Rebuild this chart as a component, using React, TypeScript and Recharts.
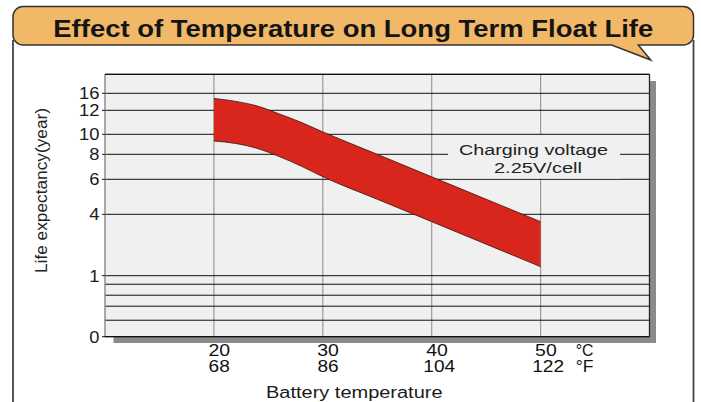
import React from 'react';
import {
  ComposedChart,
  Area,
  XAxis,
  YAxis,
  CartesianGrid,
  ReferenceLine,
  ReferenceDot,
  Label,
} from 'recharts';

const FONT = '"Liberation Sans", Arial, Helvetica, sans-serif';

// Categories: battery temperature (°C)
const temperatureC = [20, 22, 24, 26, 28, 30, 35, 40, 45, 50];
// Series: life expectancy band (years), upper and lower edges
const lifeUpper = [14.8, 14.1, 13.0, 11.7, 11.0, 10.2, 8.0, 6.2, 4.86, 3.64];
const lifeLower = [9.33, 9.08, 8.58, 7.82, 7.06, 6.21, 4.86, 3.64, 2.54, 1.44];

// X tick labels
const xTicksC = [20, 30, 40, 50];
const xTicksF = ['68', '86', '104', '122'];

// Y tick labels (years) and unlabelled lines below 1 year
const yTickYears = [0, 1, 4, 6, 8, 10, 12, 16];
const yMinorYears = [0.27, 0.5, 0.68, 0.86];

// The printed y axis is non-uniform: axis units at which each labelled value sits
const yAxisStops = [0, 61, 122.4, 157.4, 182.4, 202.4, 226.4, 243.4];
const yAxisTop = 262.4;

function toAxis(v: number): number {
  const n = yTickYears.length;
  let i = 0;
  while (i < n - 2 && v > yTickYears[i + 1]) i++;
  const v0 = yTickYears[i];
  const v1 = yTickYears[i + 1];
  const s0 = yAxisStops[i];
  const s1 = yAxisStops[i + 1];
  return s0 + ((v - v0) / (v1 - v0)) * (s1 - s0);
}

const data = temperatureC.map((t, i) => ({
  t,
  band: [toAxis(lifeLower[i]), toAxis(lifeUpper[i])],
}));

const yTicks = [...yMinorYears, ...yTickYears].map(toAxis).sort((a, b) => a - b);

function labelFor(value: number): string | null {
  for (let i = 0; i < yTickYears.length; i++) {
    if (Math.abs(toAxis(yTickYears[i]) - value) < 1e-6) return String(yTickYears[i]);
  }
  return null;
}

const XTick = (props: any) => {
  const { x, y, payload } = props;
  const i = xTicksC.indexOf(payload.value);
  const c = String(payload.value);
  const f = xTicksF[i] ?? '';
  const common = {
    fontSize: 16,
    fontFamily: FONT,
    fill: '#111',
    textAnchor: 'middle' as const,
    lengthAdjust: 'spacingAndGlyphs' as const,
  };
  return (
    <g>
      <text {...common} x={x + (c.length > 2 ? 7.5 : 5.3)} y={y + 19} textLength={c.length * 10.8}>
        {c}
      </text>
      <text {...common} x={x + (f.length > 2 ? 7.5 : 5.3)} y={y + 35} textLength={f.length * 10.6}>
        {f}
      </text>
      {i === xTicksC.length - 1 && (
        <>
          <text {...common} textAnchor="start" x={x + 35.2} y={y + 19} textLength={17.7}>
            °C
          </text>
          <text {...common} textAnchor="start" x={x + 35.2} y={y + 35} textLength={17.7}>
            °F
          </text>
        </>
      )}
    </g>
  );
};

const YTick = (props: any) => {
  const { x, y, payload } = props;
  const label = labelFor(payload.value);
  if (label == null) return <g />;
  return (
    <g>
      <line x1={x - 3} x2={x} y1={y} y2={y} stroke="#111" strokeWidth={1} />
      <text
        x={x - 5.5}
        y={y + 5.8}
        textAnchor="end"
        fontSize={16}
        fontFamily={FONT}
        fill="#1a1a1a"
        textLength={label.length * 10.2}
        lengthAdjust="spacingAndGlyphs"
      >
        {label}
      </text>
    </g>
  );
};

const XTitle = (props: any) => {
  const vb = props.viewBox || { x: 105, y: 336.7, width: 544.5, height: 40 };
  return (
    <text
      x={vb.x + 249.3}
      y={vb.y + 61.5}
      textAnchor="middle"
      fontSize={16}
      fontFamily={FONT}
      fill="#1a1a1a"
      textLength={176.5}
      lengthAdjust="spacingAndGlyphs"
    >
      Battery temperature
    </text>
  );
};

const YTitle = (props: any) => {
  const vb = props.viewBox || { x: 45, y: 74.3, width: 60, height: 262.4 };
  const cx = vb.x + 2;
  const cy = vb.y + 116.2;
  return (
    <text
      transform={`translate(${cx},${cy}) rotate(-90)`}
      textAnchor="middle"
      fontSize={17}
      fontFamily={FONT}
      fill="#222"
      textLength={165}
      lengthAdjust="spacingAndGlyphs"
    >
      Life expectancy(year)
    </text>
  );
};

const Annotation = (props: any) => {
  const { cx, cy } = props;
  return (
    <g>
      <rect x={cx - 86} y={cy - 19.3} width={172} height={43.5} fill="#f0f0f0" />
      <text
        x={cx - 0.5}
        y={cy + 0.7}
        textAnchor="middle"
        fontSize={15.5}
        fontFamily={FONT}
        fill="#222"
        textLength={149}
        lengthAdjust="spacingAndGlyphs"
      >
        Charging voltage
      </text>
      <text
        x={cx + 3.9}
        y={cy + 18.4}
        textAnchor="middle"
        fontSize={15.5}
        fontFamily={FONT}
        fill="#222"
        textLength={88}
        lengthAdjust="spacingAndGlyphs"
      >
        2.25V/cell
      </text>
    </g>
  );
};

export default function App() {
  return (
    <div
      style={{
        position: 'absolute',
        left: 0,
        top: 0,
        width: 701,
        height: 402,
        background: '#fff',
        overflow: 'hidden',
      }}
    >
      <svg width={701} height={402} style={{ position: 'absolute', left: 0, top: 0 }}>
        <line x1={13} y1={40} x2={13} y2={402} stroke="#444" strokeWidth={1.8} />
        <line x1={693.5} y1={40} x2={693.5} y2={402} stroke="#444" strokeWidth={1.8} />
        <path
          d="M 23 6.5 H 683.5 A 10 10 0 0 1 693.5 16.5 V 35 A 10 10 0 0 1 683.5 45 H 638.3 L 650.7 60 L 611.7 45 H 23 A 10 10 0 0 1 13 35 V 16.5 A 10 10 0 0 1 23 6.5 Z"
          fill="#f0b867"
          stroke="#333"
          strokeWidth={1.5}
        />
        <text
          x={353.3}
          y={36.7}
          textAnchor="middle"
          fontSize={24}
          fontWeight="bold"
          fontFamily={FONT}
          fill="#141414"
          textLength={600}
          lengthAdjust="spacingAndGlyphs"
        >
          Effect of Temperature on Long Term Float Life
        </text>
        <rect x={113.5} y={81} width={542.5} height={262} fill="#8a8a8a" />
      </svg>
      <div style={{ position: 'absolute', left: 0, top: 0 }}>
        <ComposedChart
          width={701}
          height={402}
          data={data}
          margin={{ top: 74.3, right: 51.5, bottom: 25.3, left: 45 }}
        >
          <CartesianGrid horizontal={false} stroke="#9a9a9a" strokeWidth={1.2} fill="#f0f0f0" />
          <CartesianGrid vertical={false} stroke="#111" strokeWidth={1} />
          <XAxis
            type="number"
            dataKey="t"
            domain={[10, 60]}
            allowDataOverflow
            ticks={xTicksC}
            interval={0}
            height={40}
            tickSize={0}
            tickMargin={0}
            tickLine={false}
            axisLine={{ stroke: '#111', strokeWidth: 1.2 }}
            tick={XTick}
          >
            <Label content={XTitle} />
          </XAxis>
          <YAxis
            type="number"
            domain={[0, yAxisTop]}
            allowDataOverflow
            ticks={yTicks}
            interval={0}
            width={60}
            tickSize={0}
            tickMargin={0}
            tickLine={false}
            axisLine={false}
            tick={YTick}
          >
            <Label content={YTitle} />
          </YAxis>
          <ReferenceLine x={10} stroke="#9a9a9a" strokeWidth={1.2} />
          <ReferenceLine x={60} stroke="#222" strokeWidth={1.2} />
          <ReferenceLine y={yAxisTop} stroke="#111" strokeWidth={1.2} />
          <Area
            type="monotone"
            dataKey="band"
            fill="#d8261c"
            fillOpacity={1}
            stroke="#3b120c"
            strokeWidth={0.8}
            dot={false}
            activeDot={false}
            isAnimationActive={false}
          />
          <ReferenceDot x={49.4} y={toAxis(8)} r={1} shape={Annotation} />
        </ComposedChart>
      </div>
    </div>
  );
}
